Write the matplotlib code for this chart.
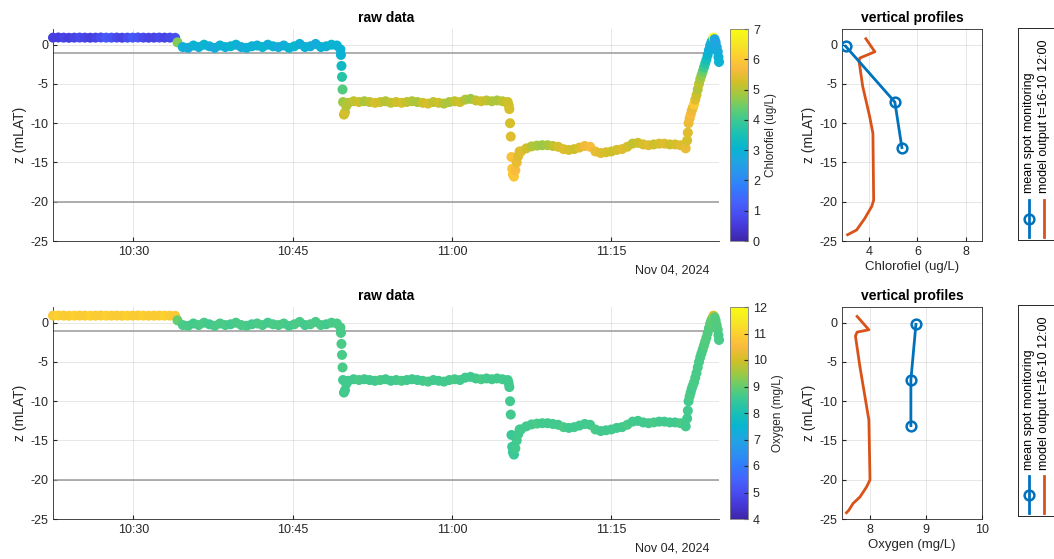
import matplotlib
matplotlib.use('Agg')
import matplotlib.pyplot as plt
import matplotlib.dates as mdates
from matplotlib.colors import LinearSegmentedColormap
import numpy as np
import pandas as pd

plt.rcParams['font.family'] = ['Liberation Sans', 'DejaVu Sans']
plt.rcParams['axes.unicode_minus'] = False

DAY = '2024-11-04 '

# --- logged CTD trace: regular 30 s logging on the plateaus -------------
# surface
start_a = '10:22:27'
z_a = [0.90, 0.92, 0.90, 0.88, 0.90, 0.91, 0.90, 0.89, 0.90, 0.92, 0.90, 0.90,
       0.91, 0.89, 0.90, 0.90, 0.92, 0.90, 0.89, 0.90, 0.91, 0.90, 0.90, 0.88]
chl_a = [0.6, 0.6, 0.7, 0.6, 0.7, 0.8, 0.7, 0.6, 0.7, 0.9, 1.1, 1.0,
         0.8, 0.7, 0.9, 1.1, 1.0, 0.8, 0.7, 0.7, 0.8, 0.7, 0.8, 0.9]
oxy_a = [10.9, 11.0, 10.9, 10.9, 11.0, 10.9, 10.9, 11.0, 10.9, 10.9, 11.0, 10.9,
         10.9, 10.9, 11.0, 10.9, 10.9, 11.0, 10.9, 10.9, 10.9, 11.0, 10.9, 10.8]

# just below the surface
start_b = '10:34:10'
z_b = [0.3, -0.3, -0.4, -0.1, -0.3, 0.0, -0.2, -0.4, -0.1, -0.3, -0.2, 0.0,
       -0.3, -0.4, -0.2, -0.1, -0.3, 0.0, -0.2, -0.3, -0.1, -0.4, -0.2, 0.1,
       -0.3, -0.2, 0.1, -0.3, -0.2, 0.0, -0.1]
chl_b = [4.6, 2.9, 2.8, 3.0, 2.9, 3.1, 2.9, 2.8, 3.0, 2.9, 3.1, 3.0,
         2.8, 2.9, 3.0, 2.9, 3.1, 2.9, 3.0, 2.8, 2.9, 3.0, 3.1, 2.9,
         3.0, 2.9, 2.8, 3.0, 2.9, 3.1, 3.0]
oxy_b = [9.0, 8.7, 8.7, 8.6, 8.7, 8.7, 8.6, 8.7, 8.7, 8.7, 8.6, 8.7,
         8.7, 8.7, 8.6, 8.7, 8.7, 8.6, 8.7, 8.7, 8.7, 8.6, 8.7, 8.7,
         8.6, 8.7, 8.7, 8.7, 8.6, 8.7, 8.7]

# first descent
t_d1 = ['10:49:30', '10:49:33', '10:49:36', '10:49:39', '10:49:42', '10:49:45',
        '10:49:50', '10:49:56', '10:50:03']
z_d1 = [-0.6, -1.3, -2.7, -4.1, -5.7, -7.3, -8.9, -8.6, -7.8]
chl_d1 = [3.0, 3.0, 3.3, 3.7, 4.2, 4.8, 5.2, 5.3, 5.0]
oxy_d1 = [8.7, 8.7, 8.7, 8.7, 8.7, 8.6, 8.6, 8.6, 8.6]

# mid-depth plateau
start_c = '10:50:15'
z_c = [-7.4, -7.2, -7.3, -7.2, -7.3, -7.4, -7.3, -7.2, -7.4, -7.3, -7.4, -7.3,
       -7.2, -7.3, -7.4, -7.5, -7.3, -7.4, -7.5, -7.3, -7.2, -7.3, -7.0, -6.9,
       -7.1, -7.2, -7.1, -7.2, -7.1, -7.2, -7.3]
chl_c = [5.0, 5.1, 5.2, 4.9, 5.1, 5.3, 5.2, 5.0, 5.1, 5.2, 5.3, 5.1,
         5.0, 4.9, 5.2, 5.3, 5.1, 5.2, 5.0, 4.9, 5.1, 5.2, 5.0, 4.8,
         5.1, 5.2, 5.1, 5.0, 4.9, 5.1, 5.2]
oxy_c = [8.6, 8.6, 8.7, 8.6, 8.6, 8.6, 8.7, 8.6, 8.6, 8.6, 8.7, 8.6,
         8.6, 8.6, 8.6, 8.7, 8.6, 8.6, 8.6, 8.6, 8.7, 8.6, 8.6, 8.6,
         8.6, 8.7, 8.6, 8.6, 8.6, 8.6, 8.6]

# second descent
t_d2 = ['11:05:20', '11:05:24', '11:05:28', '11:05:32', '11:05:36', '11:05:40',
        '11:05:44', '11:05:50', '11:05:58', '11:06:06', '11:06:14', '11:06:22']
z_d2 = [-7.7, -8.2, -10.0, -11.7, -14.3, -15.8, -16.5, -16.8, -16.0, -15.0, -14.2, -13.6]
chl_d2 = [5.2, 5.3, 5.3, 5.4, 5.8, 5.9, 6.0, 5.9, 5.7, 5.5, 5.4, 5.3]
oxy_d2 = [8.6, 8.6, 8.6, 8.6, 8.5, 8.5, 8.5, 8.5, 8.6, 8.6, 8.6, 8.6]

# deep plateau
start_d = '11:06:30'
z_d = [-13.6, -13.2, -12.95, -12.85, -12.8, -12.8, -12.9, -13.0, -13.3, -13.4, -13.3, -13.1,
       -12.9, -13.0, -13.6, -13.8, -13.7, -13.6, -13.4, -13.3, -13.0, -12.6, -12.5, -12.7,
       -12.8, -12.7, -12.6, -12.6, -12.7, -12.7, -12.8, -13.2]
chl_d = [5.4, 5.2, 5.0, 4.9, 4.8, 4.9, 5.1, 5.3, 5.4, 5.3, 5.2, 5.4,
         5.6, 5.7, 5.5, 5.4, 5.3, 5.2, 5.3, 5.4, 5.3, 5.1, 5.2, 5.3,
         5.4, 5.2, 5.3, 5.4, 5.2, 5.3, 5.4, 5.5]
oxy_d = [8.6, 8.6, 8.6, 8.7, 8.6, 8.6, 8.6, 8.6, 8.7, 8.6, 8.6, 8.6,
         8.6, 8.6, 8.7, 8.6, 8.6, 8.6, 8.6, 8.6, 8.7, 8.6, 8.6, 8.6,
         8.6, 8.7, 8.6, 8.6, 8.6, 8.6, 8.7, 8.6]

# ascent back to the surface
t_up = ['11:22:08', '11:22:12', '11:22:16', '11:22:22', '11:22:28', '11:22:34',
        '11:22:40', '11:22:47', '11:22:54', '11:23:01', '11:23:08', '11:23:15',
        '11:23:22', '11:23:29', '11:23:36', '11:23:43', '11:23:50', '11:23:57',
        '11:24:04', '11:24:11', '11:24:18', '11:24:25', '11:24:31', '11:24:37',
        '11:24:43', '11:24:49', '11:24:55', '11:25:01', '11:25:05', '11:25:08']
z_up = [-12.2, -11.2, -10.0, -9.4, -8.9, -8.4, -8.0, -7.6, -7.0, -6.4, -5.7, -5.0,
        -4.4, -3.9, -3.4, -2.9, -2.4, -1.9, -1.3, -0.7, -0.1, 0.3, 0.6, 0.9,
        0.7, 0.3, -0.3, -0.9, -1.6, -2.2]
chl_up = [5.3, 5.4, 5.5, 5.6, 5.7, 5.6, 5.5, 6.0, 5.4, 5.2, 5.0, 5.1,
          4.9, 4.7, 4.4, 4.0, 3.7, 3.4, 3.1, 2.9, 2.8, 2.8, 3.2, 7.0,
          2.7, 2.6, 2.7, 2.8, 2.9, 3.0]
oxy_up = [8.6, 8.6, 8.6, 8.7, 8.7, 8.6, 8.7, 8.7, 8.7, 8.7, 8.7, 8.7,
          8.7, 8.7, 8.7, 8.8, 8.8, 8.8, 8.8, 8.8, 8.9, 8.9, 9.0, 10.1,
          8.9, 8.8, 8.8, 8.8, 8.7, 8.7]

# --- vertical profiles ---------------------------------------------------
spot_z = [-0.2, -7.3, -13.1]
spot_chl = [3.05, 5.07, 5.36]
spot_oxy = [8.82, 8.73, 8.73]

model_z_chl = [0.76, -0.9, -1.7, -2.1, -5.3, -9.2, -11.3, -19.8, -20.6, -22.1, -23.2, -23.6, -24.2]
model_chl = [3.88, 4.25, 3.63, 3.60, 3.75, 4.04, 4.17, 4.20, 4.12, 3.84, 3.59, 3.50, 3.13]
model_z_oxy = [0.8, -0.9, -1.2, -1.7, -5.6, -10.7, -12.4, -20.0, -20.9, -22.2, -23.0, -23.9, -24.2]
model_oxy = [7.77, 7.98, 7.77, 7.74, 7.82, 7.94, 7.98, 8.00, 7.94, 7.82, 7.70, 7.62, 7.58]

# parula (MATLAB default colormap), every 4th entry of the 64 colour table
parula = LinearSegmentedColormap.from_list('parula', [
    (0.2422, 0.1504, 0.6603), (0.2706, 0.2147, 0.8364), (0.2813, 0.3006, 0.9414),
    (0.2699, 0.3892, 0.9906), (0.1963, 0.4847, 0.9892), (0.1687, 0.5703, 0.9359),
    (0.1248, 0.6459, 0.8883), (0.0297, 0.7082, 0.8163), (0.0964, 0.7500, 0.7120),
    (0.2161, 0.7843, 0.5923), (0.3909, 0.8029, 0.4354), (0.6174, 0.7876, 0.2612),
    (0.8203, 0.7498, 0.1535), (0.9728, 0.7298, 0.2394), (0.9892, 0.8136, 0.1885),
    (0.9597, 0.9135, 0.1423), (0.9769, 0.9839, 0.0805)], N=256)

BLUE = (0.0, 0.447, 0.741)
ORANGE = (0.85, 0.325, 0.098)
INK = (0.15, 0.15, 0.15)


def logged(start, values):
    return pd.date_range(DAY + start, periods=len(values), freq='30s')


def stamped(times):
    return pd.to_datetime([DAY + t for t in times])


t = np.concatenate([logged(start_a, z_a), logged(start_b, z_b), stamped(t_d1),
                    logged(start_c, z_c), stamped(t_d2), logged(start_d, z_d),
                    stamped(t_up)])
z = np.concatenate([z_a, z_b, z_d1, z_c, z_d2, z_d, z_up])
chl = np.concatenate([chl_a, chl_b, chl_d1, chl_c, chl_d2, chl_d, chl_up])
oxy = np.concatenate([oxy_a, oxy_b, oxy_d1, oxy_c, oxy_d2, oxy_d, oxy_up])

W, H = 1054, 559
fig = plt.figure(figsize=(W / 100, H / 100), dpi=100)


def px(x0, y0, x1, y1):
    return [x0 / W, 1 - y1 / H, (x1 - x0) / W, (y1 - y0) / H]


def style(ax):
    ax.tick_params(direction='in', labelsize=9, colors=INK, length=3)
    for s in ax.spines.values():
        s.set_color(INK)
        s.set_linewidth(0.6)
    ax.grid(True, color=(0.15, 0.15, 0.15), alpha=0.13, lw=0.6)
    ax.set_axisbelow(True)


def raw_panel(y0, y1, values, vmin, vmax, ticks, label):
    ax = fig.add_axes(px(53, y0, 719, y1))
    cax = fig.add_axes(px(730, y0, 748, y1))
    style(ax)
    ax.axhline(-1, color='0.6', lw=1.1, zorder=1)
    ax.axhline(-20, color='0.6', lw=1.1, zorder=1)
    sc = ax.scatter(t, z, c=values, cmap=parula, vmin=vmin, vmax=vmax, s=52,
                    edgecolors='none', zorder=3, clip_on=False)
    ax.set_xlim(t[0], t[-1])
    ax.set_ylim(-25, 2)
    ax.set_yticks(range(-25, 1, 5))
    ax.xaxis.set_major_locator(mdates.MinuteLocator(byminute=[0, 15, 30, 45]))
    ax.xaxis.set_major_formatter(mdates.DateFormatter('%H:%M'))
    ax.spines['top'].set_visible(False)
    ax.spines['right'].set_visible(False)
    ax.set_ylabel('z (mLAT)', fontsize=10, color=INK, labelpad=2)
    ax.set_title('raw data', fontsize=10, fontweight='bold', pad=5)
    ax.text(0.985, -0.11, 'Nov 04, 2024', transform=ax.transAxes, ha='right',
            va='top', fontsize=9, color=INK)
    cb = fig.colorbar(sc, cax=cax, ticks=ticks)
    cb.outline.set_edgecolor('0.5')
    cb.outline.set_linewidth(0.6)
    cax.tick_params(labelsize=9, colors=INK, length=3, direction='in')
    cb.set_label(label, fontsize=8.5, color=INK, labelpad=4)
    return ax


def profile_panel(y0, y1, spot_x, model_x, model_z, xlim, xticks, xlabel):
    ax = fig.add_axes(px(842, y0, 982, y1))
    style(ax)
    ax.plot(spot_x, spot_z, color=BLUE, lw=2, marker='o', ms=7, mfc='none',
            mew=1.8, zorder=3)
    ax.plot(model_x, model_z, color=ORANGE, lw=2, zorder=2)
    ax.set_xlim(*xlim)
    ax.set_xticks(xticks)
    ax.set_ylim(-25, 2)
    ax.set_yticks(range(-25, 1, 5))
    ax.set_ylabel('z (mLAT)', fontsize=10, color=INK, labelpad=2)
    ax.set_xlabel(xlabel, fontsize=9.5, color=INK, labelpad=2)
    ax.set_title('vertical profiles', fontsize=10, fontweight='bold', pad=5)
    return ax


def key(y0, y1):
    # legend box with the entries turned on their side
    k = fig.add_axes(px(1018, y0, 1054, y1))
    k.set_xlim(0, 1)
    k.set_ylim(0, 1)
    k.set_xticks([])
    k.set_yticks([])
    for s in k.spines.values():
        s.set_color(INK)
        s.set_linewidth(0.7)
    k.plot([0.3, 0.3], [0.015, 0.19], color=BLUE, lw=2)
    k.plot([0.3], [0.10], color=BLUE, marker='o', ms=7, mfc='none', mew=1.8)
    k.plot([0.72, 0.72], [0.015, 0.19], color=ORANGE, lw=2)
    k.text(0.3, 0.22, 'mean spot monitoring', rotation=90, ha='center',
           va='bottom', fontsize=9, color='black')
    k.text(0.72, 0.22, 'model output t=16-10 12:00', rotation=90, ha='center',
           va='bottom', fontsize=9, color='black')


raw_panel(29, 241, chl, 0, 7, range(0, 8), 'Chlorofiel (ug/L)')
profile_panel(29, 241, spot_chl, model_chl, model_z_chl, (2.9, 8.65), [4, 6, 8],
              'Chlorofiel (ug/L)')
key(28, 240)

raw_panel(307, 519, oxy, 4, 12, range(4, 13), 'Oxygen (mg/L)')
profile_panel(307, 519, spot_oxy, model_oxy, model_z_oxy, (7.5, 10), [8, 9, 10],
              'Oxygen (mg/L)')
key(305, 516)

fig.savefig('out.png', dpi=100)
